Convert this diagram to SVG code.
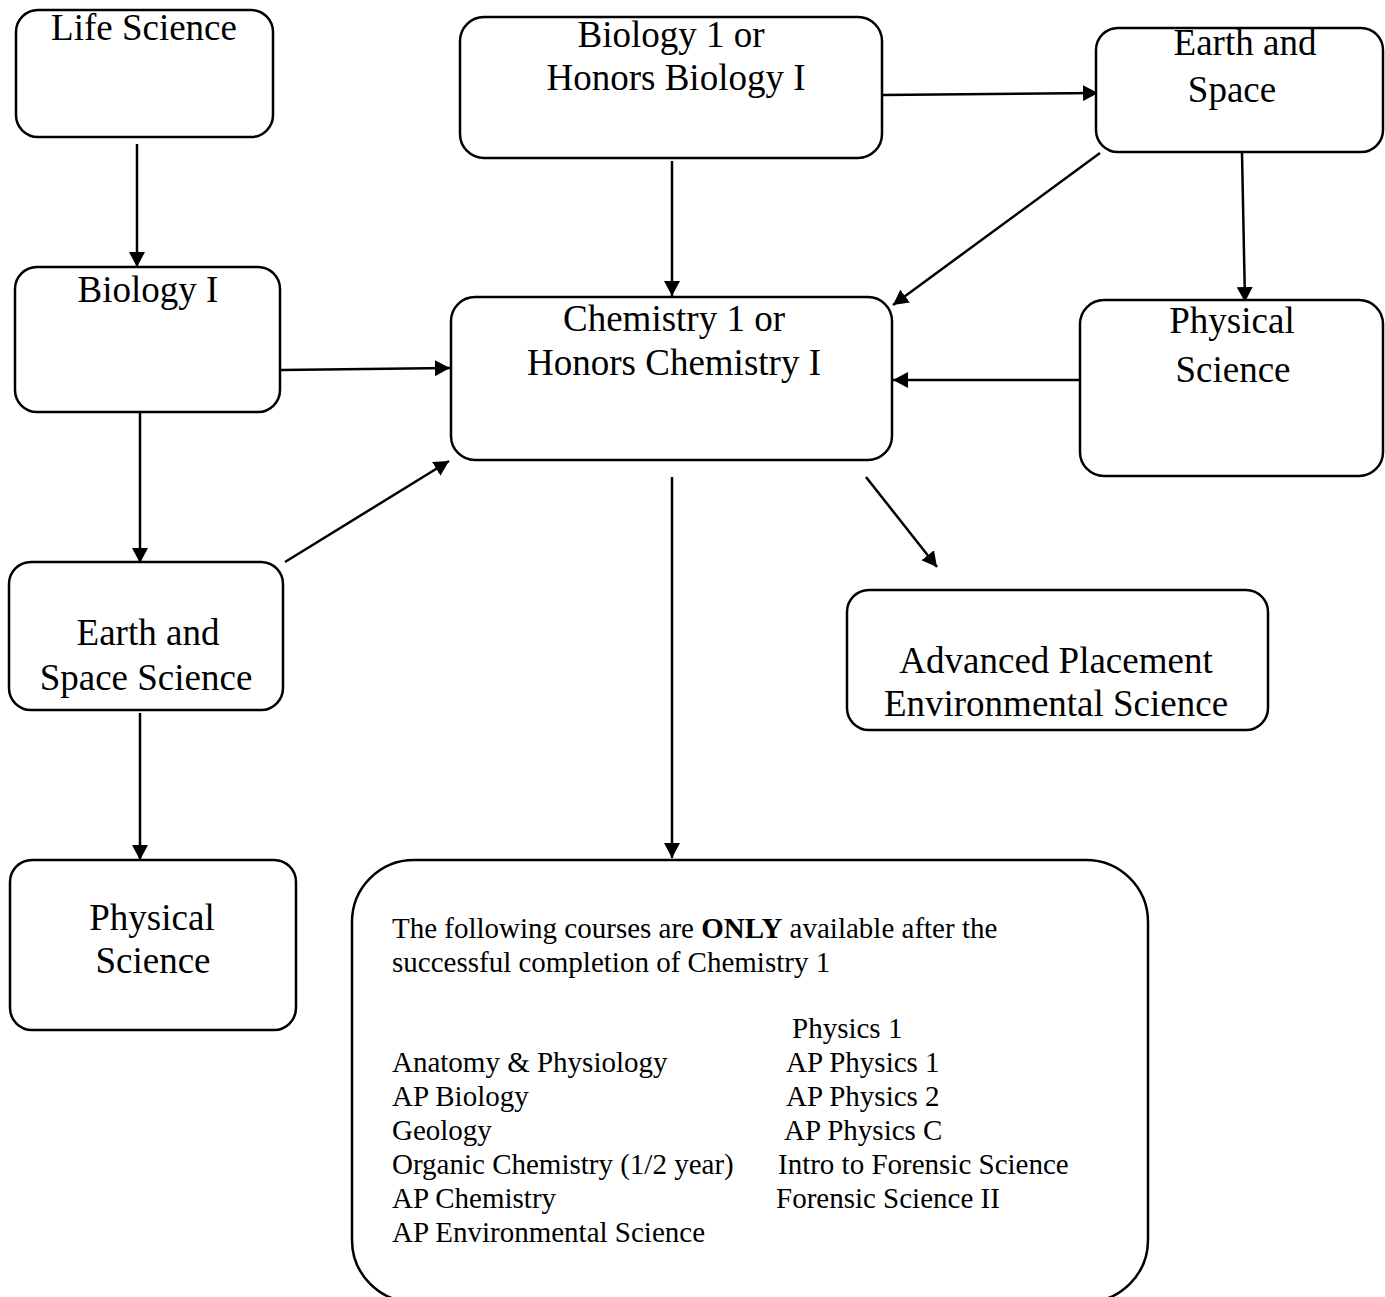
<svg xmlns="http://www.w3.org/2000/svg" width="1385" height="1297" viewBox="0 0 1385 1297">
<style>
.box{fill:#fff;stroke:#000;stroke-width:2.5}
.t{font-family:"Liberation Serif","Times New Roman",serif;font-size:37px;fill:#000;text-anchor:middle}
.s{font-family:"Liberation Serif","Times New Roman",serif;font-size:29px;fill:#000}
.c{stroke:#000;stroke-width:2.5;fill:none;marker-end:url(#ah)}
</style>
<defs>
<marker id="ah" markerUnits="userSpaceOnUse" markerWidth="16" markerHeight="16" refX="15" refY="8" orient="auto">
<path d="M0,0 L15,8 L0,16 z" fill="#000"/>
</marker>
</defs>
<rect width="1385" height="1297" fill="#fff"/>
<g id="connectors">
<line class="c" x1="137" y1="144" x2="137" y2="267"/>
<line class="c" x1="281" y1="370" x2="450" y2="368"/>
<line class="c" x1="140" y1="412" x2="140" y2="563"/>
<line class="c" x1="285" y1="562" x2="449" y2="461"/>
<line class="c" x1="140" y1="713" x2="140" y2="860"/>
<line class="c" x1="672" y1="161" x2="672" y2="296"/>
<line class="c" x1="882" y1="95" x2="1098" y2="93"/>
<line class="c" x1="1100" y1="153" x2="893" y2="305"/>
<line class="c" x1="1242" y1="153" x2="1245" y2="302"/>
<line class="c" x1="1080" y1="380" x2="893" y2="380"/>
<line class="c" x1="672" y1="477" x2="672" y2="858"/>
<line class="c" x1="866" y1="477" x2="937" y2="567"/>
</g>
<g id="life-science">
<rect class="box" x="16" y="10" width="257" height="127" rx="22"/>
<text class="t" x="144" y="40">Life Science</text>
</g>
<g id="biology-i">
<rect class="box" x="15" y="267" width="265" height="145" rx="22"/>
<text class="t" x="148" y="302">Biology I</text>
</g>
<g id="earth-space-science">
<rect class="box" x="9" y="562" width="274" height="148" rx="22"/>
<text class="t" x="148" y="645">Earth and</text>
<text class="t" x="146" y="690">Space Science</text>
</g>
<g id="physical-science-left">
<rect class="box" x="10" y="860" width="286" height="170" rx="22"/>
<text class="t" x="152" y="930">Physical</text>
<text class="t" x="153" y="973">Science</text>
</g>
<g id="biology-honors">
<rect class="box" x="460" y="17" width="422" height="141" rx="24"/>
<text class="t" x="671" y="47">Biology 1 or</text>
<text class="t" x="676" y="90">Honors Biology I</text>
</g>
<g id="chemistry">
<rect class="box" x="451" y="297" width="441" height="163" rx="24"/>
<text class="t" x="674" y="331">Chemistry 1 or</text>
<text class="t" x="674" y="375">Honors Chemistry I</text>
</g>
<g id="earth-space">
<rect class="box" x="1096" y="28" width="287" height="124" rx="22"/>
<text class="t" x="1245" y="55">Earth and</text>
<text class="t" x="1232" y="102">Space</text>
</g>
<g id="physical-science-right">
<rect class="box" x="1080" y="300" width="303" height="176" rx="24"/>
<text class="t" x="1232" y="333">Physical</text>
<text class="t" x="1233" y="382">Science</text>
</g>
<g id="ap-environmental">
<rect class="box" x="847" y="590" width="421" height="140" rx="22"/>
<text class="t" x="1056" y="673">Advanced Placement</text>
<text class="t" x="1056" y="716">Environmental Science</text>
</g>
<g id="courses">
<rect class="box" x="352" y="860" width="796" height="442" rx="62"/>
<text class="s" x="392" y="938">The following courses are <tspan font-weight="bold">ONLY</tspan> available after the</text>
<text class="s" x="392" y="972">successful completion of Chemistry 1</text>
<text class="s" x="792" y="1038">Physics 1</text>
<text class="s" x="392" y="1072">Anatomy &amp; Physiology</text>
<text class="s" x="786" y="1072">AP Physics 1</text>
<text class="s" x="392" y="1106">AP Biology</text>
<text class="s" x="786" y="1106">AP Physics 2</text>
<text class="s" x="392" y="1140">Geology</text>
<text class="s" x="784" y="1140">AP Physics C</text>
<text class="s" x="392" y="1174">Organic Chemistry (1/2 year)</text>
<text class="s" x="778" y="1174">Intro to Forensic Science</text>
<text class="s" x="392" y="1208">AP Chemistry</text>
<text class="s" x="776" y="1208">Forensic Science II</text>
<text class="s" x="392" y="1242">AP Environmental Science</text>
</g>
</svg>
